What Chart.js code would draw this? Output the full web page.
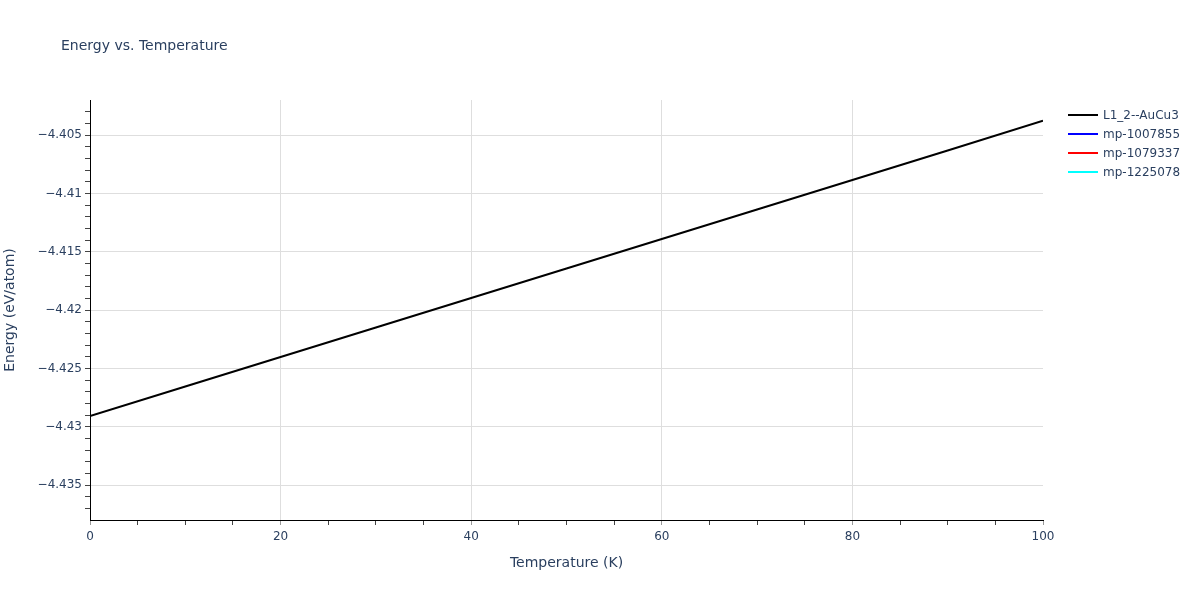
<!DOCTYPE html>
<html>
<head>
<meta charset="utf-8">
<script src="https://cdn.jsdelivr.net/npm/chart.js@4.4.1/dist/chart.umd.min.js"></script>
<style>
    body { margin: 0; background: #fff; font-family: "DejaVu Sans", Verdana, sans-serif; }
    .wrap { position: relative; width: 1200px; height: 600px; }
    #title { position: absolute; left: 61px; top: 37px; font-size: 14px; color: #2a3f5f; }
    .legend { position: absolute; left: 1068px; top: 105px; font-size: 12px; color: #2a3f5f; }
    .legend div { height: 19px; display: flex; align-items: center; }
    .legend span.swatch { display: inline-block; width: 30px; height: 2px; margin-right: 5px; }
</style>
</head>
<body>
<div class="wrap">
    <canvas id="energyChart" width="1200" height="600"></canvas>
    <div id="title">Energy vs. Temperature</div>
    <div class="legend" id="legend"></div>
</div>
<script>
// Data
const temperatures = [0, 10, 20, 30, 40, 50, 60, 70, 80, 90, 100];
const energyL12AuCu3 = [-4.42906, -4.42653, -4.42401, -4.42148, -4.41896, -4.41643, -4.41390, -4.41138, -4.40885, -4.40633, -4.40378];
const energyMp1007855 = [];
const energyMp1079337 = [];
const energyMp1225078 = [];

const seriesNames = ['L1_2--AuCu3', 'mp-1007855', 'mp-1079337', 'mp-1225078'];
const seriesColors = ['#000000', '#0000ff', '#ff0000', '#00ffff'];

const xMajorTicks = [0, 20, 40, 60, 80, 100];
const xTickLabels = ['0', '20', '40', '60', '80', '100'];
const yMajorTicks = [-4.435, -4.43, -4.425, -4.42, -4.415, -4.41, -4.405];
const yTickLabels = ['\u22124.435', '\u22124.43', '\u22124.425', '\u22124.42', '\u22124.415', '\u22124.41', '\u22124.405'];

const X_MIN = 0, X_MAX = 100;
const Y_MIN = -4.43797, Y_MAX = -4.4020;

function toPoints(values) {
    return values.map((v, i) => ({ x: temperatures[i], y: v }));
}

function isMajor(list, value) {
    return list.some(t => Math.abs(t - value) < 1e-9);
}

function labelFor(list, labels, value) {
    const idx = list.findIndex(t => Math.abs(t - value) < 1e-9);
    return idx >= 0 ? labels[idx] : '';
}

const allSeries = [energyL12AuCu3, energyMp1007855, energyMp1079337, energyMp1225078];

const datasets = allSeries.map((values, i) => ({
    label: seriesNames[i],
    data: toPoints(values),
    borderColor: seriesColors[i],
    backgroundColor: seriesColors[i],
    borderWidth: 2,
    pointRadius: 0,
    tension: 0,
    fill: false
}));

// keep plotly drawing order (later traces on top)
datasets.forEach((d, i) => { d.order = allSeries.length - i; });

const tickFont = { family: '"DejaVu Sans", Verdana, sans-serif', size: 12 };
const titleFont = { family: '"DejaVu Sans", Verdana, sans-serif', size: 14 };

new Chart(document.getElementById('energyChart').getContext('2d'), {
    type: 'line',
    data: { datasets: datasets },
    options: {
        responsive: false,
        animation: false,
        events: [],
        layout: { padding: { left: 0, top: 100, right: 157, bottom: 0 } },
        plugins: {
            legend: { display: false },
            title: { display: false },
            tooltip: { enabled: false }
        },
        scales: {
            x: {
                type: 'linear',
                min: X_MIN,
                max: X_MAX,
                afterFit: scale => { scale.height = 80; },
                afterBuildTicks: scale => {
                    const ticks = [];
                    for (let v = X_MIN; v <= X_MAX + 1e-9; v += 5) ticks.push({ value: v });
                    scale.ticks = ticks;
                },
                ticks: {
                    autoSkip: false,
                    maxRotation: 0,
                    padding: 5,
                    color: '#2a3f5f',
                    font: tickFont,
                    callback: value => labelFor(xMajorTicks, xTickLabels, value)
                },
                grid: {
                    color: ctx => {
                        const v = ctx.tick ? ctx.tick.value : null;
                        if (v === null || v === X_MIN || v === X_MAX) return 'rgba(0,0,0,0)';
                        return isMajor(xMajorTicks, v) ? '#dedede' : 'rgba(0,0,0,0)';
                    },
                    tickColor: ctx => {
                        const v = ctx.tick ? ctx.tick.value : null;
                        return (v !== null && isMajor(xMajorTicks, v)) ? '#999999' : '#444444';
                    },
                    tickLength: 5,
                    drawTicks: true
                },
                border: { display: true, color: '#000000', width: 1 },
                title: {
                    display: true,
                    text: 'Temperature (K)',
                    color: '#2a3f5f',
                    font: titleFont,
                    padding: { top: 0, bottom: 28 }
                }
            },
            y: {
                type: 'linear',
                min: Y_MIN,
                max: Y_MAX,
                afterFit: scale => { scale.width = 90; },
                afterBuildTicks: scale => {
                    const ticks = [];
                    for (let k = -4437; k <= -4403; k++) ticks.push({ value: k / 1000 });
                    scale.ticks = ticks;
                },
                ticks: {
                    autoSkip: false,
                    padding: 3,
                    color: '#2a3f5f',
                    font: tickFont,
                    callback: value => labelFor(yMajorTicks, yTickLabels, value)
                },
                grid: {
                    color: ctx => {
                        const v = ctx.tick ? ctx.tick.value : null;
                        return (v !== null && isMajor(yMajorTicks, v)) ? '#dedede' : 'rgba(0,0,0,0)';
                    },
                    tickColor: '#444444',
                    tickLength: 5,
                    drawTicks: true
                },
                border: { display: true, color: '#000000', width: 1 },
                title: {
                    display: true,
                    text: 'Energy (eV/atom)',
                    color: '#2a3f5f',
                    font: titleFont,
                    padding: { top: 2, bottom: 0 }
                }
            }
        }
    }
});

// HTML legend, same order as the traces
const legend = document.getElementById('legend');
seriesNames.forEach((name, i) => {
    const row = document.createElement('div');
    const swatch = document.createElement('span');
    swatch.className = 'swatch';
    swatch.style.background = seriesColors[i];
    const text = document.createElement('span');
    text.textContent = name;
    row.appendChild(swatch);
    row.appendChild(text);
    legend.appendChild(row);
});
</script>
</body>
</html>
